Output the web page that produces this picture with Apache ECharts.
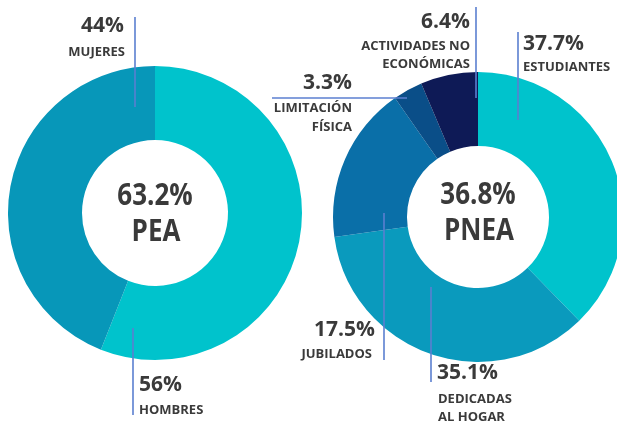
<!DOCTYPE html>
<html>
<head>
<meta charset="utf-8">
<script src="https://cdn.jsdelivr.net/npm/echarts@6/dist/echarts.min.js"></script>
<style>html,body{margin:0;padding:0;background:#fff}#c{width:617px;height:424px}</style>
</head>
<body>
<div id="c"></div>
<script>
// PEA (population economically active)
const peaTotal = 63.2;
const peaCategories = ['HOMBRES', 'MUJERES'];
const peaValues = [56, 44];
const peaColors = ['#00C3CC', '#0797B9'];

// PNEA (population not economically active)
const pneaTotal = 36.8;
const pneaCategories = ['ESTUDIANTES', 'DEDICADAS\nAL HOGAR', 'JUBILADOS', 'LIMITACIÓN\nFÍSICA', 'ACTIVIDADES NO\nECONÓMICAS'];
const pneaValues = [37.7, 35.1, 17.5, 3.3, 6.4];
const pneaColors = ['#00C3CC', '#0A9ABD', '#0A6FA8', '#0A4E88', '#0E1A56'];

const FONT = '"Open Sans", "Lato", sans-serif';
const TXT = '#3a3a3a';
const LINE = '#5B7FD0';

function pct(v) { return v + '%'; }

const chart = echarts.init(document.getElementById('c'), null, {renderer: 'canvas'});

function txt(text, x, y, size, align, sy) {
  return {
    type: 'text', z: 100, x: x, y: y, scaleY: sy || 1,
    style: {
      text: text, x: 0, y: 0, fill: TXT,
      font: 'bold ' + size + 'px ' + FONT,
      textAlign: align, textVerticalAlign: 'middle'
    }
  };
}
function ln(x1, y1, x2, y2) {
  return {type: 'line', z: 100, shape: {x1: x1, y1: y1, x2: x2, y2: y2}, style: {stroke: LINE, lineWidth: 1.6}};
}

const BIG = 21, SMALL = 13, CENTER = 26, CSY = 1.2;

const graphics = [
  // PEA annotations
  ln(135, 17, 135, 107),
  txt(pct(peaValues[1]), 124, 26, BIG, 'right'),
  txt(peaCategories[1], 125, 52, SMALL, 'right'),
  ln(133, 328, 133, 415),
  txt(pct(peaValues[0]), 139, 385, BIG, 'left'),
  txt(peaCategories[0], 139, 410, SMALL, 'left'),
  txt(pct(peaTotal), 155, 196, CENTER, 'center', CSY),
  txt('PEA', 156, 232, CENTER, 'center', CSY),
  // PNEA annotations
  ln(476, 7, 476, 98),
  txt(pct(pneaValues[4]), 470, 22, BIG, 'right'),
  txt('ACTIVIDADES NO', 470, 46, SMALL, 'right'),
  txt('ECONÓMICAS', 470, 64, SMALL, 'right'),
  ln(518, 32, 518, 120),
  txt(pct(pneaValues[0]), 523, 44, BIG, 'left'),
  txt(pneaCategories[0], 523, 67, SMALL, 'left'),
  ln(272, 98, 407, 98),
  txt(pct(pneaValues[3]), 352, 83, BIG, 'right'),
  txt('LIMITACIÓN', 352, 108, SMALL, 'right'),
  txt('FÍSICA', 352, 127, SMALL, 'right'),
  ln(384, 213, 384, 360),
  txt(pct(pneaValues[2]), 375, 330, BIG, 'right'),
  txt(pneaCategories[2], 372, 354, SMALL, 'right'),
  ln(431, 287, 431, 382),
  txt(pct(pneaValues[1]), 437, 373, BIG, 'left'),
  txt('DEDICADAS', 438, 399, SMALL, 'left'),
  txt('AL HOGAR', 438, 417, SMALL, 'left'),
  txt(pct(pneaTotal), 478, 195, CENTER, 'center', CSY),
  txt('PNEA', 479, 231, CENTER, 'center', CSY)
];

chart.setOption({
  animation: false,
  backgroundColor: '#ffffff',
  series: [
    {
      type: 'pie', center: [155, 213], radius: [73, 147], startAngle: 90, clockwise: true,
      label: {show: false}, labelLine: {show: false}, silent: true,
      itemStyle: {borderWidth: 0},
      data: peaCategories.map((c, i) => ({name: c, value: peaValues[i], itemStyle: {color: peaColors[i]}}))
    },
    {
      type: 'pie', center: [478, 217], radius: [71, 145], startAngle: 90, clockwise: true,
      label: {show: false}, labelLine: {show: false}, silent: true,
      itemStyle: {borderWidth: 0},
      data: pneaCategories.map((c, i) => ({name: c, value: pneaValues[i], itemStyle: {color: pneaColors[i]}}))
    }
  ],
  graphic: graphics
});
</script>
</body>
</html>
